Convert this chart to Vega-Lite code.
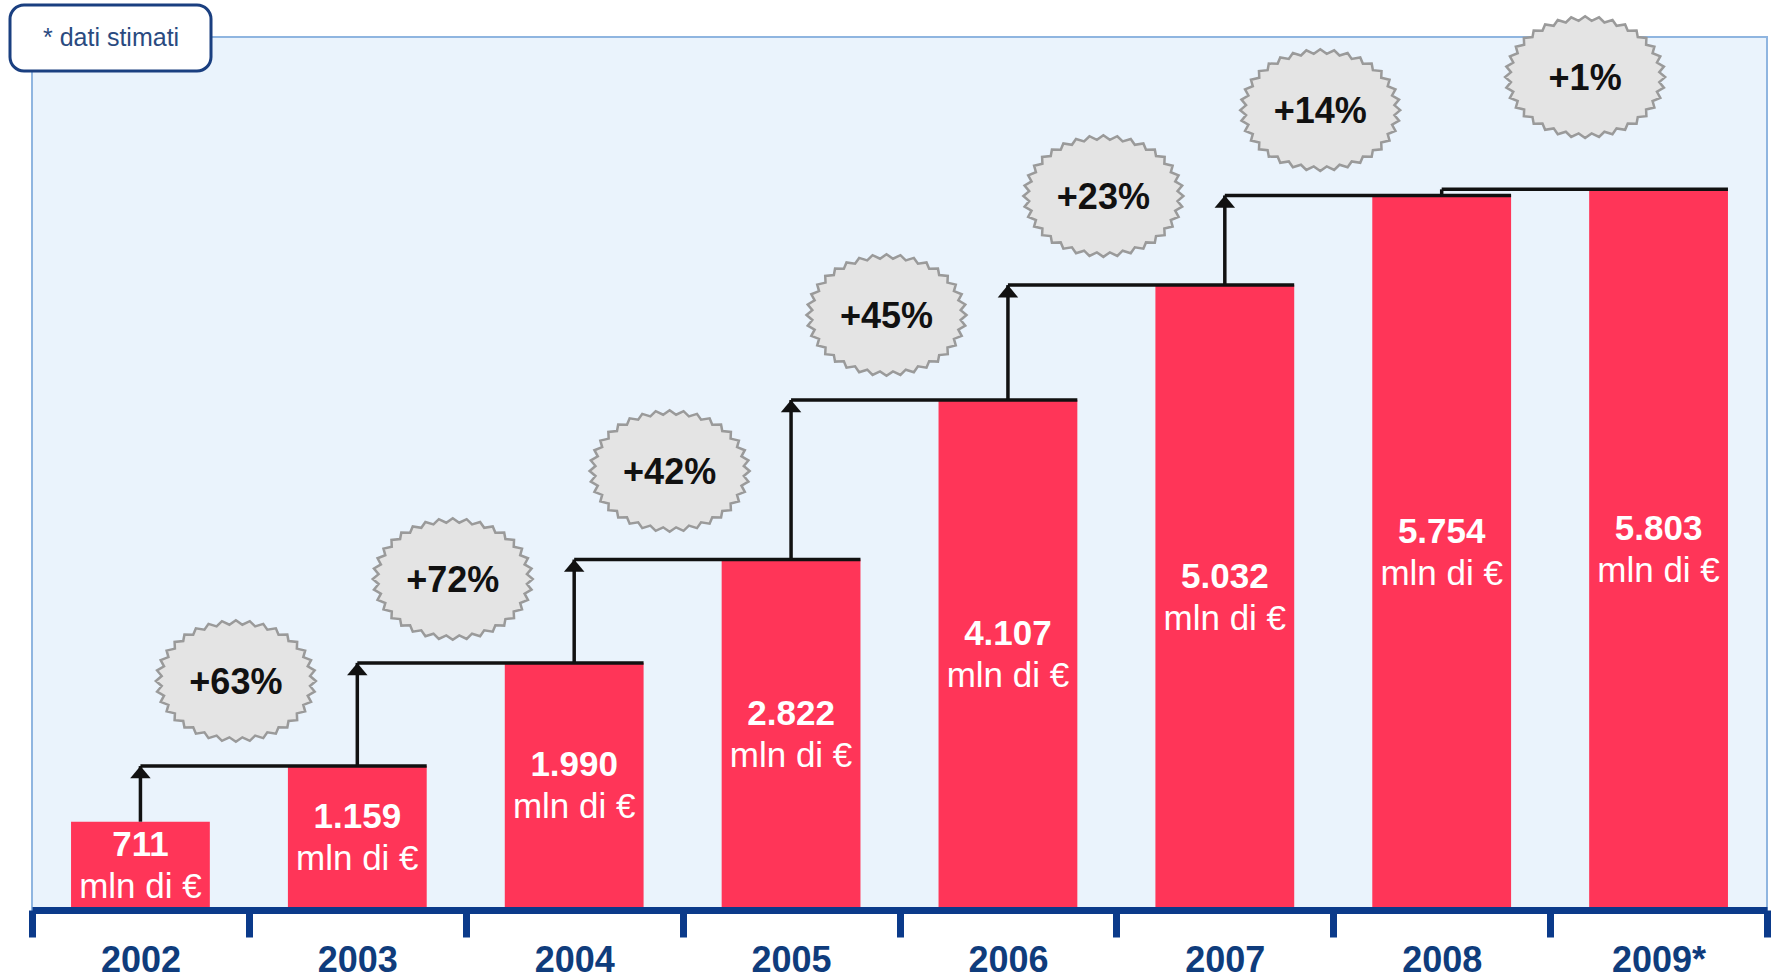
{
  "$schema": "https://vega.github.io/schema/vega-lite/v6.json",
  "width": 1735,
  "height": 873,
  "autosize": {"type": "none"},
  "padding": {"left": 32, "top": 37, "right": 13, "bottom": 69},
  "background": "#ffffff",
  "config": {
    "font": "Liberation Sans",
    "view": {"fill": "#eaf3fc", "stroke": "#8fb5e0", "strokeWidth": 2}
  },
  "datasets": {
    "bars": [
      {"year": "2002", "value": 711, "label": "711"},
      {"year": "2003", "value": 1159, "label": "1.159"},
      {"year": "2004", "value": 1990, "label": "1.990"},
      {"year": "2005", "value": 2822, "label": "2.822"},
      {"year": "2006", "value": 4107, "label": "4.107"},
      {"year": "2007", "value": 5032, "label": "5.032"},
      {"year": "2008", "value": 5754, "label": "5.754"},
      {"year": "2009*", "value": 5803, "label": "5.803"}
    ],
    "steps": [
      {"from": "2002", "to": "2003", "v0": 711, "v1": 1159},
      {"from": "2003", "to": "2004", "v0": 1159, "v1": 1990},
      {"from": "2004", "to": "2005", "v0": 1990, "v1": 2822},
      {"from": "2005", "to": "2006", "v0": 2822, "v1": 4107},
      {"from": "2006", "to": "2007", "v0": 4107, "v1": 5032},
      {"from": "2007", "to": "2008", "v0": 5032, "v1": 5754},
      {"from": "2008", "to": "2009*", "v0": 5754, "v1": 5803}
    ],
    "bursts": [
      {"to": "2003", "level": 1844, "pct": "+63%"},
      {"to": "2004", "level": 2665, "pct": "+72%"},
      {"to": "2005", "level": 3535, "pct": "+42%"},
      {"to": "2006", "level": 4791, "pct": "+45%"},
      {"to": "2007", "level": 5749, "pct": "+23%"},
      {"to": "2008", "level": 6441, "pct": "+14%"},
      {"to": "2009*", "level": 6707, "pct": "+1%"}
    ]
  },
  "resolve": {"scale": {"y": "independent"}},
  "layer": [
    {
      "data": {"name": "bars"},
      "mark": {"type": "bar", "color": "#ff3558", "width": {"band": 0.64}},
      "encoding": {
        "x": {
          "field": "year", "type": "nominal",
          "scale": {"domain": ["2002","2003","2004","2005","2006","2007","2008","2009*"], "paddingInner": 0, "paddingOuter": 0},
          "axis": {
            "title": null, "labelAngle": 0, "tickBand": "extent",
            "domainColor": "#0b3a8a", "domainWidth": 7,
            "tickColor": "#0b3a8a", "tickWidth": 7, "tickSize": 27,
            "labelFont": "Liberation Sans", "labelFontSize": 36, "labelFontWeight": "bold",
            "labelColor": "#0f3c7c", "labelPadding": 6, "zindex": 1
          }
        },
        "y": {"field": "value", "type": "quantitative", "scale": {"domain": [0, 7030], "nice": false}, "axis": null}
      }
    },
    {
      "data": {"name": "steps"},
      "mark": {"type": "rule", "color": "#111111", "strokeWidth": 3.5},
      "encoding": {
        "x": {"field": "from", "type": "nominal", "bandPosition": 0.5},
        "x2": {"field": "to", "bandPosition": 0.82},
        "y": {"field": "v1", "type": "quantitative", "scale": {"domain": [0, 7030], "nice": false}, "axis": null}
      }
    },
    {
      "data": {"name": "steps"},
      "mark": {"type": "rule", "color": "#111111", "strokeWidth": 3.5},
      "encoding": {
        "x": {"field": "from", "type": "nominal", "bandPosition": 0.5},
        "y": {"field": "v0", "type": "quantitative", "scale": {"domain": [0, 7030], "nice": false}, "axis": null},
        "y2": {"field": "v1"}
      }
    },
    {
      "data": {"name": "steps"},
      "transform": [{"filter": "datum.v1 - datum.v0 > 100"}],
      "mark": {"type": "point", "filled": true, "color": "#111111", "opacity": 1, "size": 420,
               "shape": "M-1,1.2L1,1.2L0,0Z"},
      "encoding": {
        "x": {"field": "from", "type": "nominal", "bandPosition": 0.5},
        "y": {"field": "v1", "type": "quantitative", "scale": {"domain": [0, 7030], "nice": false}, "axis": null}
      }
    },
    {
      "data": {"name": "bars"},
      "mark": {"type": "text", "color": "#ffffff", "font": "Liberation Sans", "fontSize": 35, "fontWeight": "bold", "baseline": "middle", "dy": -21},
      "encoding": {
        "x": {"field": "year", "type": "nominal"},
        "y": {"field": "value", "type": "quantitative", "scale": {"domain": [0, 14060], "nice": false}, "axis": null},
        "text": {"field": "label"}
      }
    },
    {
      "data": {"name": "bars"},
      "mark": {"type": "text", "color": "#ffffff", "font": "Liberation Sans", "fontSize": 35, "baseline": "middle", "dy": 21, "text": "mln di €"},
      "encoding": {
        "x": {"field": "year", "type": "nominal"},
        "y": {"field": "value", "type": "quantitative", "scale": {"domain": [0, 14060], "nice": false}, "axis": null}
      }
    },
    {
      "data": {"name": "bursts"},
      "mark": {"type": "point", "filled": true, "fill": "#e4e4e4", "stroke": "#9a9a9a", "strokeWidth": 2.5, "opacity": 1, "size": 25600,
               "xOffset": {"expr": "datum.pct === '+1%' ? 35 : -13"},
               "shape": "M1,0L0.927,0.062L0.985,0.132L0.898,0.183L0.94,0.26L0.843,0.299L0.866,0.38L0.762,0.405L0.766,0.489L0.658,0.5L0.643,0.582L0.533,0.579L0.5,0.658L0.393,0.641L0.342,0.714L0.241,0.683L0.174,0.748L0.081,0.704L0,0.76L-0.081,0.704L-0.174,0.748L-0.241,0.683L-0.342,0.714L-0.393,0.641L-0.5,0.658L-0.533,0.579L-0.643,0.582L-0.658,0.5L-0.766,0.489L-0.762,0.405L-0.866,0.38L-0.843,0.299L-0.94,0.26L-0.898,0.183L-0.985,0.132L-0.927,0.062L-1,0L-0.927,-0.062L-0.985,-0.132L-0.898,-0.183L-0.94,-0.26L-0.843,-0.299L-0.866,-0.38L-0.762,-0.405L-0.766,-0.489L-0.658,-0.5L-0.643,-0.582L-0.533,-0.579L-0.5,-0.658L-0.393,-0.641L-0.342,-0.714L-0.241,-0.683L-0.174,-0.748L-0.081,-0.704L0,-0.76L0.081,-0.704L0.174,-0.748L0.241,-0.683L0.342,-0.714L0.393,-0.641L0.5,-0.658L0.533,-0.579L0.643,-0.582L0.658,-0.5L0.766,-0.489L0.762,-0.405L0.866,-0.38L0.843,-0.299L0.94,-0.26L0.898,-0.183L0.985,-0.132L0.927,-0.062Z"},
      "encoding": {
        "x": {"field": "to", "type": "nominal", "bandPosition": 0},
        "y": {"field": "level", "type": "quantitative", "scale": {"domain": [0, 7030], "nice": false}, "axis": null}
      }
    },
    {
      "data": {"name": "bursts"},
      "mark": {"type": "text", "color": "#111111", "font": "Liberation Sans", "fontSize": 36, "fontWeight": "bold", "baseline": "middle", "dy": 2,
               "xOffset": {"expr": "datum.pct === '+1%' ? 35 : -13"}},
      "encoding": {
        "x": {"field": "to", "type": "nominal", "bandPosition": 0},
        "y": {"field": "level", "type": "quantitative", "scale": {"domain": [0, 7030], "nice": false}, "axis": null},
        "text": {"field": "pct"}
      }
    },
    {
      "data": {"name": "bars"},
      "transform": [{"filter": "datum.year === '2009*'"}],
      "mark": {"type": "point", "opacity": 0},
      "encoding": {
        "x": {"field": "year", "type": "nominal"},
        "y": {"field": "value", "type": "quantitative", "scale": {"domain": [0, 7030], "nice": false}, "axis": null},
        "color": {
          "datum": "* dati stimati",
          "scale": {"range": ["#ffffff"]},
          "legend": {
            "title": " ", "titleOrient": "right", "titlePadding": 12, "titleFontSize": 25,
            "orient": "none", "legendX": -22, "legendY": -32,
            "padding": 20, "cornerRadius": 14, "fillColor": "#ffffff",
            "strokeColor": "#1a3f80",
            "symbolSize": 1, "symbolOpacity": 0, "symbolStrokeWidth": 0, "symbolOffset": -12,
            "labelOffset": 0, "labelFont": "Liberation Sans", "labelFontSize": 25, "labelColor": "#2a4a80",
            "encoding": {"legend": {"strokeWidth": {"value": 3}}}
          }
        }
      }
    }
  ]
}
